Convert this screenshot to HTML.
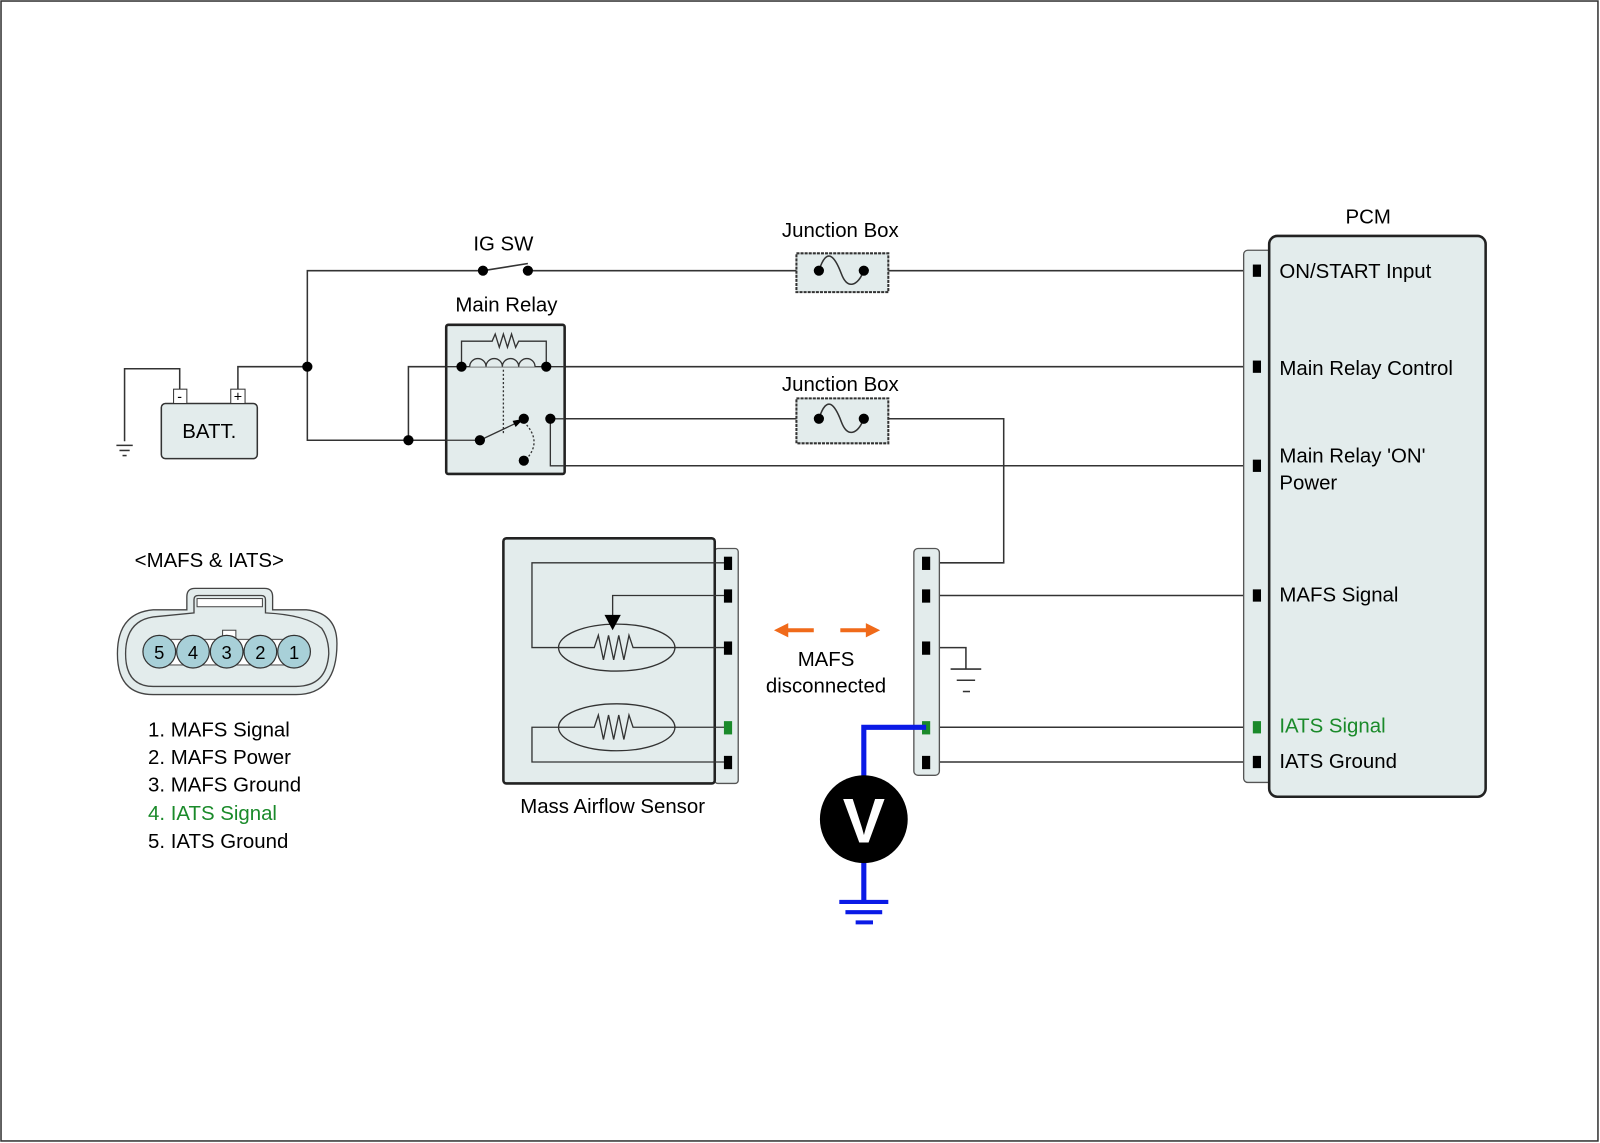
<!DOCTYPE html>
<html><head><meta charset="utf-8"><style>html,body{margin:0;padding:0;background:#fff}svg{display:block}text{font-family:"Liberation Sans",Arial,sans-serif;font-size:20px;fill:#000}</style></head>
<body>
<svg width="1600" height="1143" viewBox="0 0 1567 1119" preserveAspectRatio="none" xmlns="http://www.w3.org/2000/svg">
<rect x="1" y="1" width="1564" height="1116" fill="#fff" stroke="#333" stroke-width="1.5"/>
<g stroke="#333" stroke-width="1.5" fill="none">
<polyline points="1230,265 517,265"/>
<polyline points="473,265 301,265 301,431 470,431"/>
<polyline points="233,381 233,359 301,359"/>
<polyline points="176,381 176,361 122,361 122,432"/>
<line x1="114" y1="436" x2="130" y2="436"/><line x1="117" y1="441" x2="127" y2="441"/><line x1="120" y1="446" x2="124" y2="446"/>
<polyline points="400,431 400,359 1230,359"/>
<polyline points="539,410 983,410 983,551 910,551"/>
<line x1="553" y1="456" x2="1230" y2="456"/>
<line x1="910" y1="583" x2="1230" y2="583"/>
<polyline points="910,634 946,634 946,655"/>
<line x1="931" y1="655" x2="961" y2="655"/><line x1="937" y1="666" x2="955" y2="666"/><line x1="943" y1="677" x2="950" y2="677"/>
<line x1="910" y1="712" x2="1230" y2="712"/>
<line x1="910" y1="746" x2="1230" y2="746"/>
<line x1="473" y1="265" x2="517" y2="258"/>
</g>
<rect x="158" y="395" width="94" height="54" rx="4" fill="#e3ecec" stroke="#333" stroke-width="1.5"/>
<rect x="170" y="381" width="13" height="14" fill="#fff" stroke="#333"/>
<rect x="226" y="381" width="14" height="14" fill="#fff" stroke="#333"/>
<text x="176" y="393" text-anchor="middle" style="font-size:14px">-</text>
<text x="233" y="393" text-anchor="middle" style="font-size:14px">+</text>
<text x="205" y="429" text-anchor="middle">BATT.</text>
<g fill="#e3ecec" stroke="#333" stroke-width="2" stroke-dasharray="3,1">
<rect x="780" y="248" width="90" height="38"/><rect x="780" y="390" width="90" height="44"/>
</g>
<g stroke="#333" stroke-width="1.5" fill="none">
<path d="M802,265 C810,240 818,252 824,268 C830,284 840,280 846,265"/>
<path d="M802,410 C810,385 818,397 824,413 C830,429 840,425 846,410"/>
</g>
<text x="823" y="232" text-anchor="middle">Junction Box</text>
<text x="823" y="383" text-anchor="middle">Junction Box</text>
<text x="493" y="245" text-anchor="middle">IG SW</text>
<rect x="437" y="318" width="116" height="146" rx="2" fill="#e3ecec" stroke="#222" stroke-width="2.5"/>
<g stroke="#333" stroke-width="1.3" fill="none">
<line x1="437" y1="359" x2="553" y2="359"/>
<line x1="553" y1="410" x2="539" y2="410"/>
<polyline points="539,410 539,456 553,456"/>
<polyline points="452,359 452,334 482,334 485,327 489,340 493,327 497,340 501,327 505,340 508,334 535,334 535,359"/>
<path d="M460,359 a8,8 0 0 1 16,0 a8,8 0 0 1 16,0 a8,8 0 0 1 16,0 a8,8 0 0 1 16,0" fill="#e3ecec"/>
<line x1="493" y1="362" x2="493" y2="424" stroke-dasharray="2,2"/>
<path d="M513,413 Q532,432 515,450" stroke-dasharray="2,2"/>
<line x1="437" y1="431" x2="470" y2="431"/>
<line x1="470" y1="431" x2="508" y2="413"/>
</g>
<polygon points="513,410 502,412 505,418" fill="#000"/>
<g fill="#000">
<circle cx="301" cy="359" r="5"/><circle cx="400" cy="431" r="5"/>
<circle cx="473" cy="265" r="5"/><circle cx="517" cy="265" r="5"/>
<circle cx="802" cy="265" r="5"/><circle cx="846" cy="265" r="5"/>
<circle cx="802" cy="410" r="5"/><circle cx="846" cy="410" r="5"/>
<circle cx="452" cy="359" r="5"/><circle cx="535" cy="359" r="5"/>
<circle cx="470" cy="431" r="5"/><circle cx="513" cy="410" r="5"/><circle cx="539" cy="410" r="5"/><circle cx="513" cy="451" r="5"/>
</g>
<text x="496" y="305" text-anchor="middle">Main Relay</text>
<rect x="1218" y="245" width="30" height="521" rx="4" fill="#e3ecec" stroke="#555" stroke-width="1.3"/>
<rect x="1243" y="231" width="212" height="549" rx="8" fill="#e3ecec" stroke="#222" stroke-width="2.5"/>
<g fill="#000"><rect x="1227" y="259" width="8" height="12"/><rect x="1227" y="353" width="8" height="12"/><rect x="1227" y="450" width="8" height="12"/><rect x="1227" y="577" width="8" height="12"/><rect x="1227" y="740" width="8" height="12"/></g>
<rect x="1227" y="706" width="8" height="12" fill="#1a8a2a"/>
<text x="1340" y="219" text-anchor="middle">PCM</text>
<text x="1253" y="272">ON/START Input</text>
<text x="1253" y="367">Main Relay Control</text>
<text x="1253" y="453">Main Relay 'ON'</text>
<text x="1253" y="479">Power</text>
<text x="1253" y="589">MAFS Signal</text>
<text x="1253" y="717" style="fill:#1a8a2a">IATS Signal</text>
<text x="1253" y="752">IATS Ground</text>
<rect x="700" y="537" width="23" height="230" rx="3" fill="#e3ecec" stroke="#555" stroke-width="1.3"/>
<rect x="493" y="527" width="207" height="240" rx="3" fill="#e3ecec" stroke="#222" stroke-width="2.5"/>
<g stroke="#333" stroke-width="1.3" fill="none">
<polyline points="710,551 521,551 521,634 710,634"/>
<polyline points="710,583 600,583 600,605"/>
<polyline points="710,712 521,712 521,746 710,746"/>
<ellipse cx="604" cy="634" rx="57" ry="23" fill="#e3ecec"/>
<ellipse cx="604" cy="712" rx="57" ry="23" fill="#e3ecec"/>
<polyline points="547,634 582,634 586,622 591,646 596,622 601,646 606,622 611,646 616,622 620,634 662,634"/>
<polyline points="547,712 582,712 586,700 591,724 596,700 601,724 606,700 611,724 616,700 620,712 662,712"/>
</g>
<polygon points="592,602 608,602 600,617" fill="#000"/>
<g fill="#000"><rect x="709" y="545" width="8" height="13"/><rect x="709" y="577" width="8" height="13"/><rect x="709" y="628" width="8" height="13"/><rect x="709" y="740" width="8" height="13"/></g>
<rect x="709" y="706" width="8" height="13" fill="#1a8a2a"/>
<text x="600" y="796" text-anchor="middle">Mass Airflow Sensor</text>
<rect x="895" y="537" width="25" height="222" rx="4" fill="#e3ecec" stroke="#555" stroke-width="1.3"/>
<g fill="#000"><rect x="903" y="545" width="8" height="13"/><rect x="903" y="577" width="8" height="13"/><rect x="903" y="628" width="8" height="13"/><rect x="903" y="740" width="8" height="13"/></g>
<rect x="903" y="706" width="8" height="13" fill="#1a8a2a"/>
<g stroke="#f06a1a" stroke-width="4"><line x1="770" y1="617" x2="797" y2="617"/><line x1="823" y1="617" x2="850" y2="617"/></g>
<polygon points="758,617 772,610 772,624" fill="#f06a1a"/>
<polygon points="862,617 848,610 848,624" fill="#f06a1a"/>
<text x="809" y="652" text-anchor="middle">MAFS</text>
<text x="809" y="678" text-anchor="middle">disconnected</text>
<polyline points="907,712 846,712 846,883" stroke="#0a1ae6" stroke-width="5" fill="none"/>
<g stroke="#0a1ae6" stroke-width="4"><line x1="822" y1="883" x2="870" y2="883"/><line x1="828" y1="893" x2="864" y2="893"/><line x1="838" y1="903" x2="855" y2="903"/></g>
<circle cx="846" cy="802" r="43" fill="#000"/>
<text x="846" y="825" text-anchor="middle" style="font-size:62px;font-weight:bold;fill:#fff">V</text>
<text x="205" y="555" text-anchor="middle">&lt;MAFS &amp; IATS&gt;</text>
<path d="M183,597 L183,584 Q183,576 191,576 L259,576 Q267,576 267,584 L267,597 L300,597 Q330,600 330,630 Q330,680 290,680 L150,680 Q115,680 115,640 Q115,600 150,597 Z" fill="#e3ecec" stroke="#444" stroke-width="1.3"/>
<path d="M190,600 L190,587 Q190,583 194,583 L256,583 Q260,583 260,587 L260,600 Q300,602 315,615 Q322,625 322,640 Q320,672 290,672 L150,672 Q123,672 123,640 Q123,608 150,604 Z" fill="none" stroke="#444" stroke-width="1.3"/>
<rect x="193" y="586" width="64" height="8" fill="#fff" stroke="#444"/>
<rect x="218" y="617" width="13" height="9" fill="#fff" stroke="#444"/>
<g fill="#a8d0d8" stroke="#333" stroke-width="1.2">
<rect x="156" y="626" width="132" height="25" fill="#fff" stroke="#666"/>
<circle cx="156" cy="638" r="16"/><circle cx="189" cy="638" r="16"/><circle cx="222" cy="638" r="16"/><circle cx="255" cy="638" r="16"/><circle cx="288" cy="638" r="16"/>
</g>
<g text-anchor="middle"><text x="156" y="645" style="font-size:18px">5</text><text x="189" y="645" style="font-size:18px">4</text><text x="222" y="645" style="font-size:18px">3</text><text x="255" y="645" style="font-size:18px">2</text><text x="288" y="645" style="font-size:18px">1</text></g>
<text x="145" y="721">1. MAFS Signal</text>
<text x="145" y="748">2. MAFS Power</text>
<text x="145" y="775">3. MAFS Ground</text>
<text x="145" y="803" style="fill:#1a8a2a">4. IATS Signal</text>
<text x="145" y="830">5. IATS Ground</text>
</svg>
</body></html>
